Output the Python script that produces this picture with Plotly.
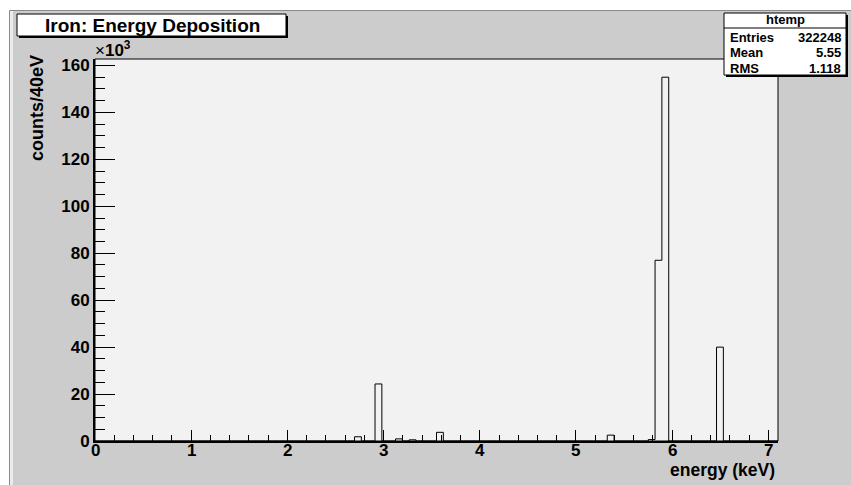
import numpy as np
import plotly.graph_objects as go

# Histogram definition: 100 bins over 0 - 7.1 keV
n_bins = 100
e_min, e_max = 0.0, 7.1

# Filled bins (bin centre in keV, counts)
bin_centre_kev = [2.73, 2.95, 3.16, 3.30, 3.59, 5.36, 5.79, 5.86, 5.93, 6.50]
bin_counts = [1800, 24300, 900, 500, 3700, 2500, 600, 77000, 155000, 40000]

# Axis ticks
x_tick_vals = [0, 1, 2, 3, 4, 5, 6, 7]
y_tick_vals = [0, 20000, 40000, 60000, 80000, 100000, 120000, 140000, 160000]
y_tick_text = ["0", "20", "40", "60", "80", "100", "120", "140", "160"]

# Stats box contents
stats_name = "htemp"
stats_labels = ["Entries", "Mean", "RMS"]
stats_values = ["322248", "5.55", "1.118"]

edges = np.linspace(e_min, e_max, n_bins + 1)
hist, _ = np.histogram(bin_centre_kev, bins=edges, weights=bin_counts)
y_max = 1.05 * hist.max()

W, H = 851, 485
L, R, T, B = 95, 778, 59, 441  # frame in pixels
FONT = "Liberation Sans"


def px(x):
    return (x - L) / (R - L)


def py(y):
    return (B - y) / (B - T)


fig = go.Figure()
fig.add_trace(go.Scatter(
    x=edges, y=np.append(hist, hist[-1]),
    mode="lines", line=dict(shape="hv", color="black", width=1),
    hoverinfo="skip", showlegend=False,
))

shapes = []
# white outer margin and bevel of the canvas
shapes.append(dict(type="rect", xref="paper", yref="paper", x0=px(0), x1=px(W),
                   y0=py(0), y1=py(10), fillcolor="white", line_width=0, layer="below"))
shapes.append(dict(type="rect", xref="paper", yref="paper", x0=px(0), x1=px(9),
                   y0=py(0), y1=py(H), fillcolor="white", line_width=0, layer="below"))
shapes.append(dict(type="line", xref="paper", yref="paper", x0=px(9.5), x1=px(W),
                   y0=py(10.5), y1=py(10.5), line=dict(color="#8a8a8a", width=1), layer="below"))
shapes.append(dict(type="line", xref="paper", yref="paper", x0=px(9.5), x1=px(9.5),
                   y0=py(10.5), y1=py(H), line=dict(color="#8a8a8a", width=1), layer="below"))
shapes.append(dict(type="rect", xref="paper", yref="paper", x0=px(10), x1=px(13),
                   y0=py(11), y1=py(H), fillcolor="#ececec", line_width=0, layer="below"))
# frame border (top / right)
shapes.append(dict(type="rect", xref="paper", yref="paper", x0=0, x1=1, y0=0, y1=1,
                   line=dict(color="black", width=1), layer="above"))


def shadow_box(x0, y0, x1, y1, off=2):
    shapes.append(dict(type="rect", xref="paper", yref="paper",
                       x0=px(x0 + off), x1=px(x1 + off), y0=py(y1 + off), y1=py(y0 + off),
                       fillcolor="black", line_width=0, layer="above"))
    shapes.append(dict(type="rect", xref="paper", yref="paper",
                       x0=px(x0), x1=px(x1), y0=py(y1), y1=py(y0),
                       fillcolor="white", line=dict(color="black", width=1), layer="above"))


# title box
shadow_box(17, 14, 286, 36)
# stats box
shadow_box(724, 13, 846, 75)
shapes.append(dict(type="line", xref="paper", yref="paper", x0=px(724), x1=px(846),
                   y0=py(28), y1=py(28), line=dict(color="black", width=1), layer="above"))

annotations = []


def text(x, y, s, size, xanchor="center", yanchor="middle", angle=0, weight="bold"):
    annotations.append(dict(x=px(x), y=py(y), xref="paper", yref="paper", text=s,
                            showarrow=False, xanchor=xanchor, yanchor=yanchor,
                            textangle=angle, borderpad=0,
                            font=dict(family=FONT, size=size, color="black", weight=weight)))


text(152, 25.5, "Iron: Energy Deposition", 19)
text(785, 20, stats_name, 13)
for i, (lab, val) in enumerate(zip(stats_labels, stats_values)):
    yy = 37 + i * 16
    text(729, yy, lab, 13, xanchor="left")
    text(842, yy, val, 13, xanchor="right")
text(37, 108, "counts/40eV", 18, angle=-90)
text(776, 470, "energy (keV)", 17.5, xanchor="right")
text(94, 61, "×<b>10<sup>3</sup></b>", 17, xanchor="left", yanchor="bottom", weight="normal")

axis_font = dict(family=FONT, size=17, color="black", weight="bold")

# x tick labels placed on the energy axis, tucked close under the frame
for v in x_tick_vals:
    annotations.append(dict(x=v, y=py(450), xref="x", yref="paper", text=str(v),
                            showarrow=False, xanchor="center", yanchor="middle",
                            borderpad=0, font=axis_font))

fig.update_layout(
    width=W, height=H,
    margin=dict(l=L, r=W - R, t=T, b=H - B, pad=0),
    paper_bgcolor="#cccccc",
    plot_bgcolor="#f2f2f2",
    shapes=shapes,
    annotations=annotations,
    xaxis=dict(
        range=[e_min, e_max], tickvals=x_tick_vals, showgrid=False, zeroline=False,
        showline=True, linecolor="black", linewidth=2, showticklabels=False,
        ticks="inside", ticklen=11, tickwidth=1, tickcolor="black",
        minor=dict(ticks="inside", ticklen=6, dtick=0.2, tick0=0, tickcolor="black", showgrid=False),
    ),
    yaxis=dict(
        range=[0, y_max], tickvals=y_tick_vals, ticktext=y_tick_text,
        showgrid=False, zeroline=False,
        showline=True, linecolor="black", linewidth=2,
        ticks="inside", ticklen=20, tickwidth=1, tickcolor="black",
        minor=dict(ticks="inside", ticklen=10, dtick=5000, tick0=0, tickcolor="black", showgrid=False),
        tickfont=axis_font,
    ),
)

fig.write_html("out.html")
